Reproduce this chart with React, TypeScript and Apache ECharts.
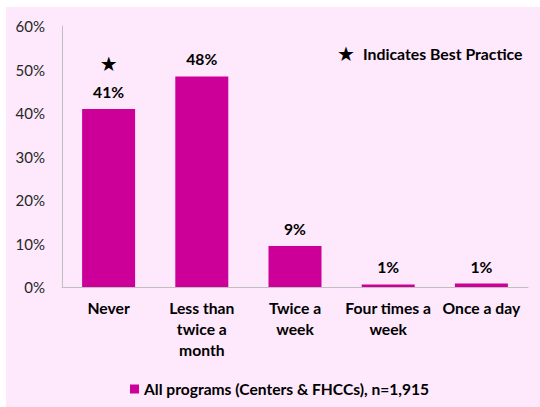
import React, { useEffect, useRef } from "react";
import * as echarts from "echarts";

const categories = ["Never", "Less than\ntwice a\nmonth", "Twice a\nweek", "Four times a\nweek", "Once a day"];
const values = [40.9, 48.4, 9.4, 0.6, 0.8];
const bestPractice = [true, false, false, false, false];
const seriesName = "All programs (Centers & FHCCs), n=1,915";
const yTicks = { min: 0, max: 60, interval: 10 };

const FONT = "Lato, 'Open Sans', sans-serif";

export default function App() {
  const ref = useRef<HTMLDivElement>(null);
  useEffect(() => {
    document.body.style.margin = "0";
    const chart = echarts.init(ref.current!, null, { renderer: "svg" });
    chart.setOption({
      animation: false,
      backgroundColor: "#ffffff",
      graphic: [
        { type: "rect", z: -10, shape: { x: 6, y: 7, width: 534, height: 400 }, style: { fill: "#FDE8FC" } },
        {
          type: "text",
          left: 337,
          top: 44,
          style: { text: "★", font: "20px 'DejaVu Sans'", fill: "#000" },
        },
        {
          type: "text",
          left: 363,
          top: 45,
          style: { text: "Indicates Best Practice", font: `bold 15.8px ${FONT}`, fill: "#000" },
        },
      ],
      grid: { left: 62, right: 12, top: 26, bottom: 120 },
      legend: {
        left: 125,
        top: 376,
        itemWidth: 9,
        itemHeight: 9,
        itemGap: 10,
        icon: "rect",
        textStyle: { fontFamily: FONT, fontWeight: "bold", fontSize: 15.6, color: "#000" },
        data: [seriesName],
      },
      xAxis: {
        type: "category",
        data: categories,
        axisLine: { show: true, lineStyle: { color: "#BFBFBF", width: 1 } },
        axisTick: { show: false },
        axisLabel: {
          interval: 0,
          margin: 10,
          fontFamily: FONT,
          fontWeight: "bold",
          fontSize: 15.7,
          lineHeight: 21,
          color: "#000",
        },
      },
      yAxis: {
        type: "value",
        min: yTicks.min,
        max: yTicks.max,
        interval: yTicks.interval,
        axisLine: { show: true, lineStyle: { color: "#BFBFBF", width: 1 } },
        axisTick: { show: false },
        splitLine: { show: false },
        axisLabel: {
          formatter: "{value}%",
          margin: 17,
          fontFamily: FONT,
          fontSize: 15,
          color: "#262626",
        },
      },
      series: [
        {
          name: seriesName,
          type: "bar",
          barWidth: 53,
          data: values,
          itemStyle: { color: "#CC0099" },
          label: {
            show: true,
            position: "top",
            distance: 8,
            formatter: (p: any) => {
              const v = `{v|${Math.round(p.value)}%}`;
              return bestPractice[p.dataIndex] ? `{s|★}\n${v}` : v;
            },
            rich: {
              v: { fontFamily: FONT, fontWeight: "bold", fontSize: 15.7, lineHeight: 18, color: "#000" },
              s: { fontFamily: "'DejaVu Sans'", fontSize: 20, lineHeight: 38, color: "#000" },
            },
          },
        },
      ],
    });
    return () => chart.dispose();
  }, []);
  return <div ref={ref} style={{ width: 540, height: 407 }} />;
}
